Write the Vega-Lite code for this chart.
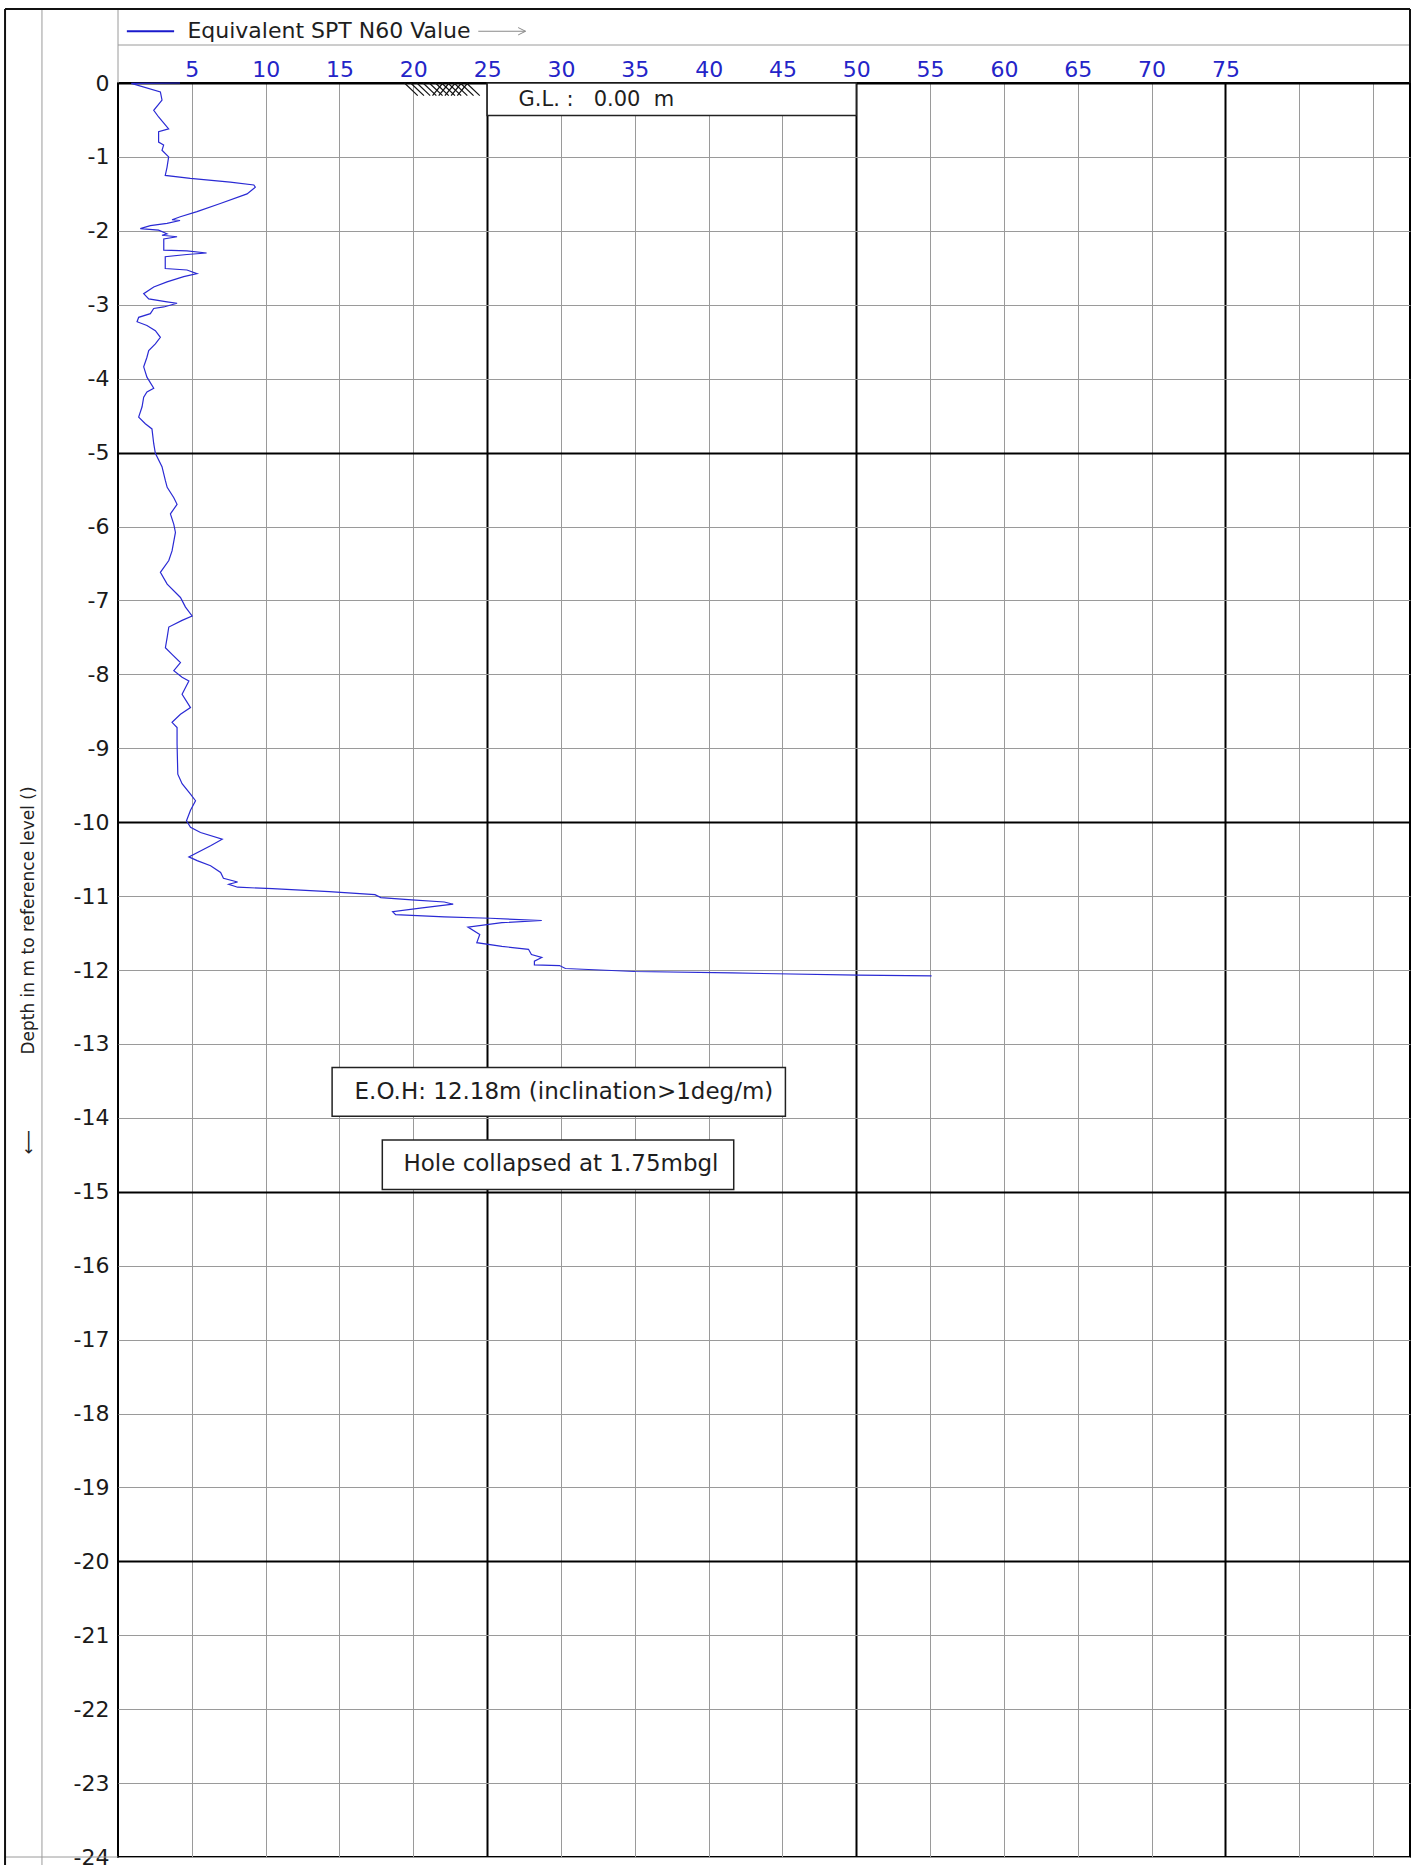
{
  "$schema": "https://vega.github.io/schema/vega-lite/v6.json",
  "autosize": "none",
  "width": 1292,
  "height": 1774,
  "padding": {"left": 118, "top": 83, "right": 5, "bottom": 8},
  "background": "white",
  "config": {
    "view": {"stroke": "#000000", "strokeWidth": 2},
    "font": "DejaVu Sans"
  },
  "datasets": {
    "profile": [
      {"n60": 4.2, "depth": 0.0}, {"n60": 0.9, "depth": -0.005}, {"n60": 2.87, "depth": -0.12},
      {"n60": 2.98, "depth": -0.23}, {"n60": 2.42, "depth": -0.37}, {"n60": 2.75, "depth": -0.46},
      {"n60": 3.43, "depth": -0.62}, {"n60": 2.75, "depth": -0.66}, {"n60": 2.75, "depth": -0.8},
      {"n60": 3.09, "depth": -0.84}, {"n60": 2.98, "depth": -0.91}, {"n60": 3.43, "depth": -1.0},
      {"n60": 3.32, "depth": -1.14}, {"n60": 3.2, "depth": -1.25}, {"n60": 4.9, "depth": -1.29},
      {"n60": 7.6, "depth": -1.34}, {"n60": 9.2, "depth": -1.38}, {"n60": 9.3, "depth": -1.41},
      {"n60": 8.74, "depth": -1.5}, {"n60": 6.93, "depth": -1.63}, {"n60": 5.35, "depth": -1.74},
      {"n60": 4.22, "depth": -1.81}, {"n60": 3.66, "depth": -1.85}, {"n60": 4.2, "depth": -1.86},
      {"n60": 3.32, "depth": -1.9}, {"n60": 2.19, "depth": -1.93}, {"n60": 1.51, "depth": -1.97},
      {"n60": 2.75, "depth": -1.99}, {"n60": 3.32, "depth": -2.04}, {"n60": 2.98, "depth": -2.06},
      {"n60": 4.0, "depth": -2.08}, {"n60": 3.1, "depth": -2.11}, {"n60": 3.1, "depth": -2.26},
      {"n60": 4.67, "depth": -2.27}, {"n60": 6.0, "depth": -2.3}, {"n60": 4.67, "depth": -2.32},
      {"n60": 3.2, "depth": -2.35}, {"n60": 3.2, "depth": -2.51}, {"n60": 4.67, "depth": -2.53},
      {"n60": 5.35, "depth": -2.58}, {"n60": 4.45, "depth": -2.62}, {"n60": 3.32, "depth": -2.69},
      {"n60": 2.42, "depth": -2.76}, {"n60": 1.74, "depth": -2.85}, {"n60": 2.08, "depth": -2.92},
      {"n60": 3.32, "depth": -2.96}, {"n60": 4.0, "depth": -2.98}, {"n60": 3.1, "depth": -3.03},
      {"n60": 2.42, "depth": -3.05}, {"n60": 2.19, "depth": -3.12}, {"n60": 1.4, "depth": -3.17},
      {"n60": 1.29, "depth": -3.23}, {"n60": 1.96, "depth": -3.28}, {"n60": 2.53, "depth": -3.35},
      {"n60": 2.87, "depth": -3.44}, {"n60": 2.53, "depth": -3.53}, {"n60": 2.08, "depth": -3.62},
      {"n60": 1.96, "depth": -3.71}, {"n60": 1.74, "depth": -3.84}, {"n60": 1.96, "depth": -3.98},
      {"n60": 2.42, "depth": -4.13}, {"n60": 1.96, "depth": -4.18}, {"n60": 1.74, "depth": -4.25},
      {"n60": 1.63, "depth": -4.38}, {"n60": 1.4, "depth": -4.52}, {"n60": 1.85, "depth": -4.61},
      {"n60": 2.3, "depth": -4.68}, {"n60": 2.42, "depth": -4.88}, {"n60": 2.53, "depth": -5.01},
      {"n60": 2.98, "depth": -5.19}, {"n60": 3.21, "depth": -5.38}, {"n60": 3.33, "depth": -5.47},
      {"n60": 3.78, "depth": -5.61}, {"n60": 4.0, "depth": -5.7}, {"n60": 3.55, "depth": -5.83},
      {"n60": 3.78, "depth": -5.97}, {"n60": 3.89, "depth": -6.08}, {"n60": 3.66, "depth": -6.33},
      {"n60": 3.44, "depth": -6.46}, {"n60": 2.87, "depth": -6.62}, {"n60": 3.33, "depth": -6.78},
      {"n60": 4.23, "depth": -6.96}, {"n60": 4.57, "depth": -7.09}, {"n60": 5.02, "depth": -7.21},
      {"n60": 4.34, "depth": -7.27}, {"n60": 3.44, "depth": -7.36}, {"n60": 3.33, "depth": -7.5},
      {"n60": 3.21, "depth": -7.64}, {"n60": 3.66, "depth": -7.73}, {"n60": 4.23, "depth": -7.84},
      {"n60": 3.78, "depth": -7.95}, {"n60": 4.34, "depth": -8.04}, {"n60": 4.8, "depth": -8.09},
      {"n60": 4.34, "depth": -8.27}, {"n60": 4.91, "depth": -8.45}, {"n60": 4.23, "depth": -8.54},
      {"n60": 3.66, "depth": -8.65}, {"n60": 4.0, "depth": -8.72}, {"n60": 4.0, "depth": -8.94},
      {"n60": 4.05, "depth": -9.35}, {"n60": 4.34, "depth": -9.48}, {"n60": 4.91, "depth": -9.62},
      {"n60": 5.25, "depth": -9.71}, {"n60": 4.91, "depth": -9.84}, {"n60": 4.64, "depth": -9.98},
      {"n60": 4.91, "depth": -10.07}, {"n60": 5.59, "depth": -10.14}, {"n60": 7.06, "depth": -10.23},
      {"n60": 6.27, "depth": -10.32}, {"n60": 4.8, "depth": -10.47}, {"n60": 5.36, "depth": -10.52},
      {"n60": 6.27, "depth": -10.59}, {"n60": 6.95, "depth": -10.68}, {"n60": 7.14, "depth": -10.76},
      {"n60": 8.1, "depth": -10.81}, {"n60": 7.5, "depth": -10.84}, {"n60": 8.1, "depth": -10.88},
      {"n60": 10.45, "depth": -10.9}, {"n60": 14.3, "depth": -10.94}, {"n60": 17.4, "depth": -10.98},
      {"n60": 17.8, "depth": -11.02}, {"n60": 19.9, "depth": -11.05}, {"n60": 22.1, "depth": -11.08},
      {"n60": 22.7, "depth": -11.11}, {"n60": 20.6, "depth": -11.16}, {"n60": 18.6, "depth": -11.21},
      {"n60": 18.8, "depth": -11.25}, {"n60": 22.1, "depth": -11.28}, {"n60": 25.2, "depth": -11.3},
      {"n60": 28.7, "depth": -11.33}, {"n60": 26.0, "depth": -11.36}, {"n60": 23.7, "depth": -11.42},
      {"n60": 24.5, "depth": -11.52}, {"n60": 24.3, "depth": -11.63}, {"n60": 26.0, "depth": -11.68},
      {"n60": 27.8, "depth": -11.72}, {"n60": 28.0, "depth": -11.79}, {"n60": 28.7, "depth": -11.83},
      {"n60": 28.2, "depth": -11.88}, {"n60": 28.2, "depth": -11.93}, {"n60": 29.9, "depth": -11.94},
      {"n60": 30.3, "depth": -11.98}, {"n60": 35.0, "depth": -12.02}, {"n60": 41.6, "depth": -12.04},
      {"n60": 50.1, "depth": -12.07}, {"n60": 55.1, "depth": -12.08}
    ],
    "frame": [
      {"kind": "thick", "n60": -7.65, "n60_end": 87.5, "depth": 1.0, "depth_end": 1.0},
      {"kind": "thick", "n60": -7.65, "n60_end": -7.65, "depth": 1.0, "depth_end": -24.3},
      {"kind": "thick", "n60": 87.5, "n60_end": 87.5, "depth": 1.0, "depth_end": 0},
      {"kind": "thin", "n60": -5.15, "n60_end": -5.15, "depth": 1.0, "depth_end": -24.3},
      {"kind": "thin", "n60": 0, "n60_end": 0, "depth": 1.0, "depth_end": 0},
      {"kind": "thin", "n60": 0, "n60_end": 87.5, "depth": 0.514, "depth_end": 0.514},
      {"kind": "thin", "n60": -7.65, "n60_end": 0, "depth": -24.0, "depth_end": -24.0},
      {"kind": "arrow", "n60": 24.4, "n60_end": 27.6, "depth": 0.7, "depth_end": 0.7},
      {"kind": "arrow", "n60": 27.6, "n60_end": 27.1, "depth": 0.7, "depth_end": 0.75},
      {"kind": "arrow", "n60": 27.6, "n60_end": 27.1, "depth": 0.7, "depth_end": 0.65},
      {"kind": "legend", "n60": 0.6, "n60_end": 3.8, "depth": 0.7, "depth_end": 0.7},
      {"kind": "hatch", "n60": 19.4, "n60_end": 20.3, "depth": 0, "depth_end": -0.17},
      {"kind": "hatch", "n60": 19.82, "n60_end": 20.72, "depth": 0, "depth_end": -0.17},
      {"kind": "hatch", "n60": 20.24, "n60_end": 21.14, "depth": 0, "depth_end": -0.17},
      {"kind": "hatch", "n60": 20.66, "n60_end": 21.56, "depth": 0, "depth_end": -0.17},
      {"kind": "hatch", "n60": 21.08, "n60_end": 21.98, "depth": 0, "depth_end": -0.17},
      {"kind": "hatch", "n60": 21.5, "n60_end": 22.4, "depth": 0, "depth_end": -0.17},
      {"kind": "hatch", "n60": 21.92, "n60_end": 22.82, "depth": 0, "depth_end": -0.17},
      {"kind": "hatch", "n60": 22.34, "n60_end": 23.24, "depth": 0, "depth_end": -0.17},
      {"kind": "hatch", "n60": 22.76, "n60_end": 23.66, "depth": 0, "depth_end": -0.17},
      {"kind": "hatch", "n60": 23.18, "n60_end": 24.08, "depth": 0, "depth_end": -0.17},
      {"kind": "hatch", "n60": 23.6, "n60_end": 24.5, "depth": 0, "depth_end": -0.17},
      {"kind": "hatch", "n60": 21.3, "n60_end": 22.0, "depth": -0.17, "depth_end": 0},
      {"kind": "hatch", "n60": 21.72, "n60_end": 22.42, "depth": -0.17, "depth_end": 0},
      {"kind": "hatch", "n60": 22.14, "n60_end": 22.84, "depth": -0.17, "depth_end": 0},
      {"kind": "hatch", "n60": 22.56, "n60_end": 23.26, "depth": -0.17, "depth_end": 0},
      {"kind": "hatch", "n60": 22.98, "n60_end": 23.68, "depth": -0.17, "depth_end": 0}
    ],
    "boxes": [
      {"n60": 25, "n60_end": 50, "depth": 0, "depth_end": -0.44},
      {"n60": 14.5, "n60_end": 45.2, "depth": -13.32, "depth_end": -13.98},
      {"n60": 17.9, "n60_end": 41.7, "depth": -14.3, "depth_end": -14.97}
    ],
    "notes": [
      {"note": "G.L. :\u00a0\u00a0 0.00\u00a0 m", "n60": 32.4, "depth": -0.23, "kind": "small"},
      {"note": "E.O.H: 12.18m (inclination>1deg/m)", "n60": 30.2, "depth": -13.65, "kind": "large"},
      {"note": "Hole collapsed at 1.75mbgl", "n60": 30.0, "depth": -14.63, "kind": "large"},
      {"note": "Equivalent SPT N60 Value", "n60": 4.7, "depth": 0.7, "kind": "legend"}
    ]
  },
  "encoding": {
    "x": {
      "field": "n60", "type": "quantitative",
      "scale": {"domain": [0, 87.5], "nice": false, "zero": false},
      "axis": {
        "orient": "top", "title": null,
        "values": [5, 10, 15, 20, 25, 30, 35, 40, 45, 50, 55, 60, 65, 70, 75, 80, 85],
        "labelExpr": "datum.value <= 75 ? datum.label : ''",
        "domain": false, "ticks": false, "tickSize": 0,
        "labelPadding": 7, "labelBaseline": "alphabetic",
        "labelFont": "DejaVu Sans", "labelFontSize": 22, "labelColor": "#2424c8",
        "labelOverlap": false, "labelFlush": false, "labelBound": false,
        "grid": true,
        "gridColor": {"condition": {"test": "datum.value % 25 === 0", "value": "#000000"}, "value": "#9a9a9a"},
        "gridWidth": {"condition": {"test": "datum.value % 25 === 0", "value": 2}, "value": 1}
      }
    },
    "y": {
      "field": "depth", "type": "quantitative",
      "scale": {"domain": [-24, 0], "nice": false, "zero": false},
      "axis": {
        "orient": "left",
        "title": "\u27f5\u00a0\u00a0\u00a0\u00a0\u00a0\u00a0\u00a0\u00a0\u00a0\u00a0\u00a0\u00a0\u00a0 Depth in m to reference level ()",
        "titleFont": "DejaVu Sans", "titleFontSize": 17, "titleFontWeight": "normal",
        "titleColor": "#222222", "titlePadding": 36,
        "values": [0, -1, -2, -3, -4, -5, -6, -7, -8, -9, -10, -11, -12, -13, -14, -15, -16, -17, -18, -19, -20, -21, -22, -23, -24],
        "labelExpr": "'' + datum.value",
        "domain": false, "ticks": false, "tickSize": 0,
        "labelPadding": 9, "labelFont": "DejaVu Sans", "labelFontSize": 22, "labelColor": "#1a1a1a",
        "labelOverlap": false, "labelFlush": false, "labelBound": false,
        "grid": true,
        "gridColor": {"condition": {"test": "datum.value % 5 === 0", "value": "#000000"}, "value": "#9a9a9a"},
        "gridWidth": {"condition": {"test": "datum.value % 5 === 0", "value": 2}, "value": 1}
      }
    }
  },
  "layer": [
    {
      "data": {"name": "profile"},
      "mark": {"type": "line", "color": "#2a2ad4", "strokeWidth": 1.2},
      "encoding": {
        "order": {"field": "depth", "sort": "descending"}
      }
    },
    {
      "data": {"name": "frame"},
      "transform": [{"filter": "datum.kind === 'thin'"}],
      "mark": {"type": "rule", "color": "#9a9a9a", "strokeWidth": 1},
      "encoding": {"x2": {"field": "n60_end"}, "y2": {"field": "depth_end"}}
    },
    {
      "data": {"name": "frame"},
      "transform": [{"filter": "datum.kind === 'arrow'"}],
      "mark": {"type": "rule", "color": "#8a8a8a", "strokeWidth": 1},
      "encoding": {"x2": {"field": "n60_end"}, "y2": {"field": "depth_end"}}
    },
    {
      "data": {"name": "frame"},
      "transform": [{"filter": "datum.kind === 'thick'"}],
      "mark": {"type": "rule", "color": "#111111", "strokeWidth": 2},
      "encoding": {"x2": {"field": "n60_end"}, "y2": {"field": "depth_end"}}
    },
    {
      "data": {"name": "frame"},
      "transform": [{"filter": "datum.kind === 'hatch'"}],
      "mark": {"type": "rule", "color": "#111111", "strokeWidth": 1.2},
      "encoding": {"x2": {"field": "n60_end"}, "y2": {"field": "depth_end"}}
    },
    {
      "data": {"name": "frame"},
      "transform": [{"filter": "datum.kind === 'legend'"}],
      "mark": {"type": "rule", "color": "#1a1acc", "strokeWidth": 2},
      "encoding": {"x2": {"field": "n60_end"}, "y2": {"field": "depth_end"}}
    },
    {
      "data": {"name": "boxes"},
      "mark": {"type": "rect", "fill": "#ffffff", "stroke": "#222222", "strokeWidth": 1.5},
      "encoding": {"x2": {"field": "n60_end"}, "y2": {"field": "depth_end"}}
    },
    {
      "data": {"name": "notes"},
      "transform": [{"filter": "datum.kind === 'large'"}],
      "mark": {"type": "text", "font": "DejaVu Sans", "fontSize": 23, "color": "#1e1e1e", "align": "center", "baseline": "middle"},
      "encoding": {"text": {"field": "note"}}
    },
    {
      "data": {"name": "notes"},
      "transform": [{"filter": "datum.kind === 'small'"}],
      "mark": {"type": "text", "font": "DejaVu Sans", "fontSize": 21, "color": "#1e1e1e", "align": "center", "baseline": "middle"},
      "encoding": {"text": {"field": "note"}}
    },
    {
      "data": {"name": "notes"},
      "transform": [{"filter": "datum.kind === 'legend'"}],
      "mark": {"type": "text", "font": "DejaVu Sans", "fontSize": 22, "color": "#1e1e1e", "align": "left", "baseline": "middle"},
      "encoding": {"text": {"field": "note"}}
    }
  ]
}
